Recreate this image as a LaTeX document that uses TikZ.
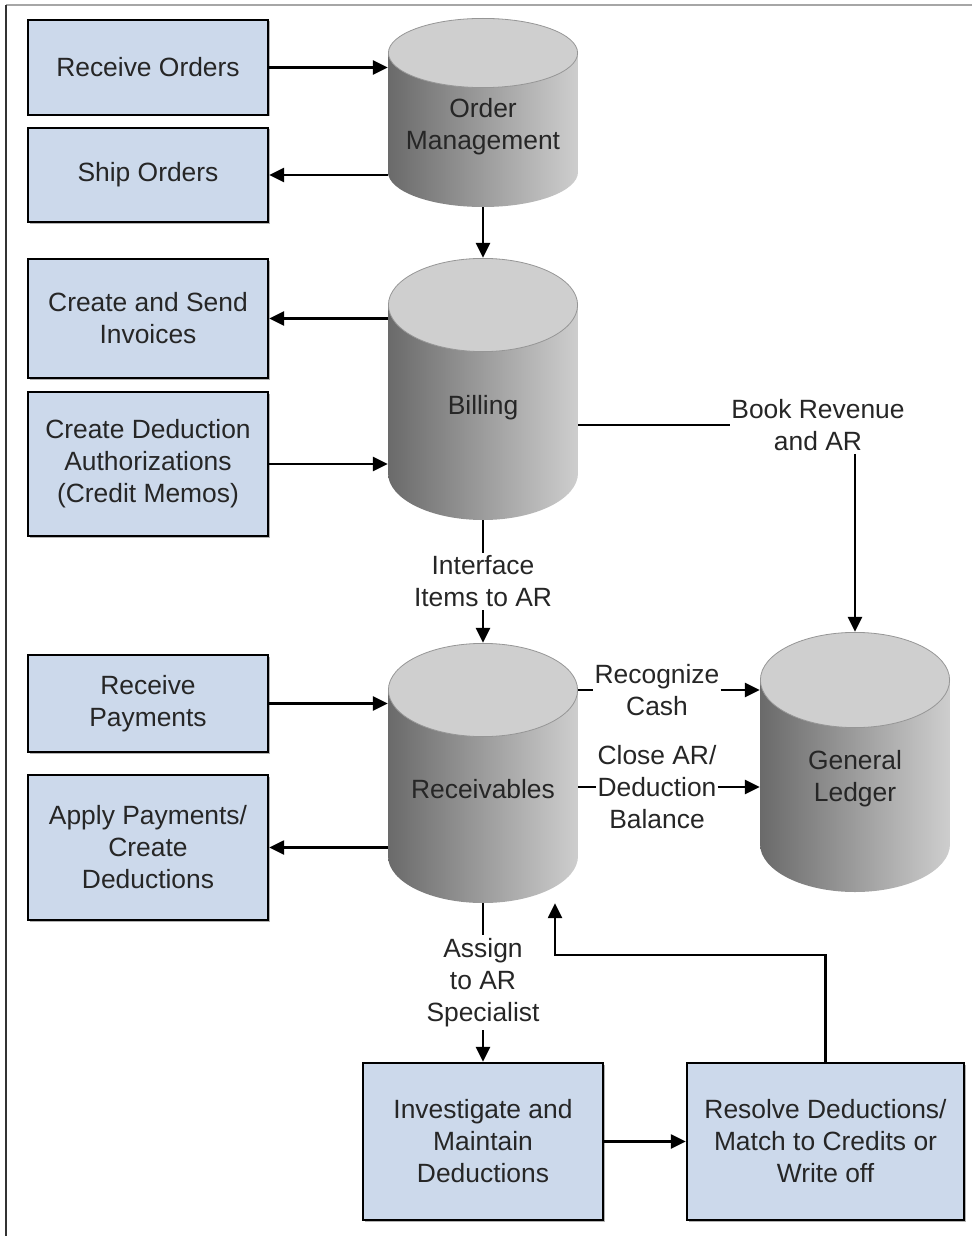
\documentclass[tikz,border=0pt]{standalone}
\usepackage{fontspec}
\setmainfont{Liberation Sans}
\usetikzlibrary{arrows.meta,positioning,shadows}
\definecolor{taskblue}{RGB}{204,217,235}
\definecolor{cylleft}{RGB}{106,106,106}
\definecolor{cylright}{RGB}{206,206,206}
\definecolor{cyltop}{RGB}{207,207,207}
\definecolor{cylrim}{RGB}{150,150,150}
\newcommand\dfont{\fontsize{26.4}{32}\selectfont}

\begin{document}
\begin{tikzpicture}[x=1pt,y=-1pt,>={Triangle[length=15pt,width=14pt]},
  every node/.style={font=\dfont,text=black!85,align=center},
  task/.style={draw,line width=2.4pt,fill=taskblue,minimum width=240pt,inner sep=2pt,
    drop shadow={shadow xshift=1.5pt,shadow yshift=-1.5pt,opacity=.6}},
  cyl ry/.store in=\cylry,cyl ry=47pt,
  db/.style={minimum width=190pt,inner sep=0pt,path picture={
    \shade[left color=cylleft,right color=cylright]
      ([yshift=-\cylry]path picture bounding box.north west) -- ([yshift=\cylry]path picture bounding box.south west)
      arc[start angle=180,end angle=360,x radius=95pt,y radius=\cylry]
      -- ([yshift=-\cylry]path picture bounding box.north east) -- cycle;
    \filldraw[fill=cyltop,draw=cylrim,line width=.8pt] ([yshift=-\cylry]path picture bounding box.north)
      ellipse[x radius=94.6pt,y radius=\cylry-0.4pt];}},
  flow/.style={->,line width=2.5pt},
  lbl/.style={fill=white,inner xsep=1pt,inner ysep=3pt}]
\useasboundingbox (0,0) rectangle (972,1236);
\draw[gray!70,line width=1.5pt] (972,5) -- (6,5);
\draw[black!80,line width=2pt] (6,5) -- (6,1236);

\node[task,minimum height=95pt] (recvord) at (148,67.5) {Receive Orders};
\node[task,minimum height=94pt] (shipord) at (148,175) {Ship Orders};
\node[task,minimum height=119pt] (invoices) at (148,318.5) {Create and Send\\Invoices};
\node[task,minimum height=144pt] (dedauth) at (148,464) {Create Deduction\\Authorizations\\(Credit Memos)};
\node[task,minimum height=97pt] (recvpay) at (148,703.5) {Receive\\Payments};
\node[task,minimum height=145pt] (applypay) at (148,847.5) {Apply Payments/\\Create\\Deductions};
\node[task,minimum height=157pt] (investig) at (483,1141.5) {Investigate and\\Maintain\\Deductions};
\node[task,minimum height=157pt,minimum width=277pt] (resolve) at (825.5,1141.5) {Resolve Deductions/\\Match to Credits or\\Write off};

\node[db,cyl ry=35pt,minimum height=189pt,label={[yshift=-14pt]center:{Order\\Management}}] (om) at (483,112.5) {};
\node[db,minimum height=262pt,label={[yshift=-19pt]center:Billing}] (billing) at (483,389) {};
\node[db,minimum height=260pt,label={[yshift=-16pt]center:Receivables}] (recv) at (483,773) {};
\node[db,cyl ry=48pt,minimum height=260pt,label={[yshift=-17pt]center:{General\\Ledger}}] (gl) at (855,762) {};

\node[lbl] (bookrev) at (818,425) {Book Revenue\\and AR};
\node[lbl] (recash) at (657,690) {Recognize\\Cash};
\node[lbl] (closear) at (657,787) {Close AR/\\Deduction\\Balance};
\coordinate (backturn) at (555,955);

\draw[flow] (recvord) -- (recvord -| om.west); \draw[flow] (shipord -| om.west) -- (shipord);
\draw[flow] (om) -- (billing);
\draw[flow] (invoices -| billing.west) -- (invoices); \draw[flow] (dedauth) -- (dedauth -| billing.west);
\draw[line width=2.5pt] (billing.east |- bookrev) -- (bookrev); \draw[flow] (bookrev.south -| gl) -- (gl);
\draw[flow] (billing) -- node[lbl] {Interface\\Items to AR} (recv);
\draw[flow] (recvpay) -- (recvpay -| recv.west); \draw[flow] (applypay -| recv.west) -- (applypay);
\draw[line width=2.5pt] (recv.east |- recash) -- (recash); \draw[flow] (recash) -- (recash -| gl.west);
\draw[line width=2.5pt] (recv.east |- closear) -- (closear); \draw[flow] (closear) -- (closear -| gl.west);
\draw[flow] (recv) -- node[lbl] {Assign\\to AR\\Specialist} (investig);
\draw[flow] (investig) -- (resolve);
\draw[flow] (resolve.north) |- (backturn) -- (backturn |- recv.south);
\end{tikzpicture}
\end{document}
